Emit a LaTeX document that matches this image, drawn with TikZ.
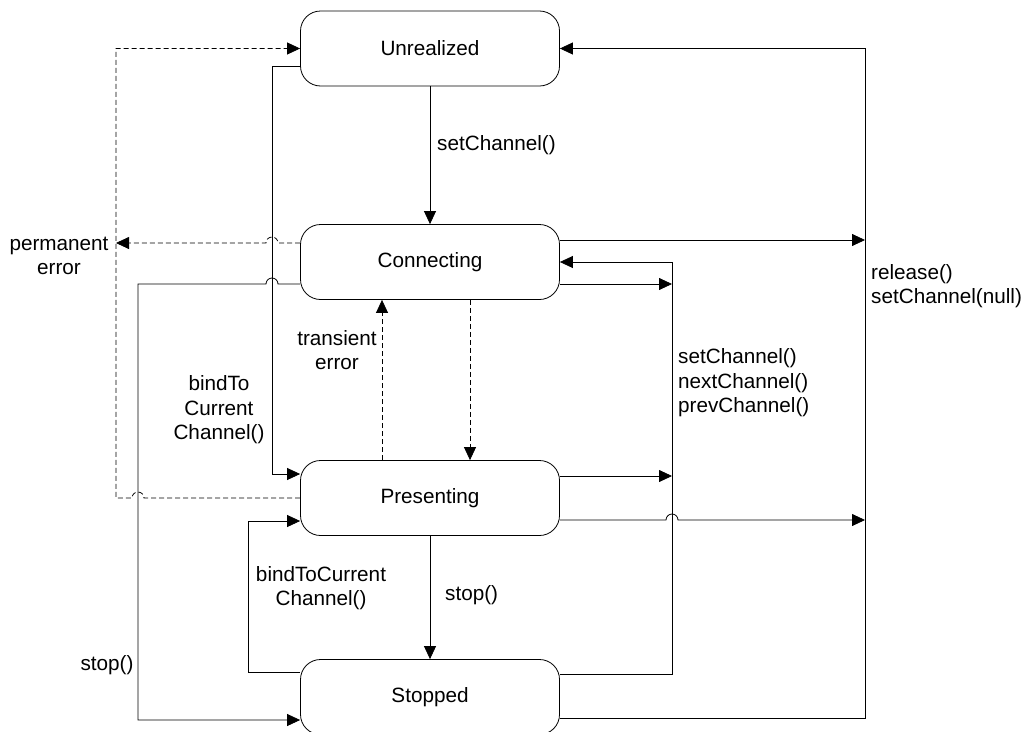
\documentclass[tikz,border=0pt]{standalone}
\usepackage{fontspec}
\setmainfont{Liberation Sans}
\usetikzlibrary{arrows.meta}
\tikzset{
state/.style={draw,rounded corners=20pt,minimum width=259pt,minimum height=75pt,line width=0.8pt,font=\fontsize{20.7}{24.5}\selectfont},
lbl/.style={inner sep=0pt,font=\fontsize{20.7}{24.5}\selectfont},
ln/.style={line width=0.8pt},
arr/.style={line width=0.8pt,-{Triangle[length=13pt,width=12pt]}},
dsh/.style={dash pattern=on 5pt off 3pt},
}

\begin{document}
\begin{tikzpicture}[x=1pt,y=-1pt]
\useasboundingbox (0,0) rectangle (1025,731);
\node[state] (unr) at (430,48.5) {Unrealized};
\node[state] (con) at (430,262) {Connecting};
\node[state] (pre) at (430,498) {Presenting};
\node[state] (sto) at (430,697) {Stopped};
\coordinate (b1) at (272,66);
\coordinate (b2) at (272,474);
\coordinate (c1) at (248,672);
\coordinate (c2) at (248,521);
\coordinate (s1) at (138,284);
\coordinate (s2) at (138,720);
\coordinate (pe) at (116,243);
\coordinate (d1) at (116,498);
\coordinate (d2) at (116,48.5);
\coordinate (q1) at (672,262);
\coordinate (q2) at (672,674);
\coordinate (q3) at (672,284);
\coordinate (q4) at (672,476);
\coordinate (r1) at (865,48.5);
\coordinate (r2) at (865,718);
\coordinate (r3) at (865,240);
\coordinate (r4) at (865,520);
\node[lbl,anchor=west] (l1) at (437,145) {setChannel()};
\node[lbl,anchor=west] (l2) at (445,595) {stop()};
\node[lbl,align=center] (l3) at (59,256) {permanent\\error};
\node[lbl,align=center] (l4) at (337,350) {transient\\error};
\node[lbl,align=center] (l5) at (219,410) {bindTo\\Current\\Channel()};
\node[lbl,align=center] (l6) at (321,588) {bindToCurrent\\Channel()};
\node[lbl] (l7) at (107,665) {stop()};
\node[lbl,align=left,anchor=west] (l8) at (678,383) {setChannel()\\nextChannel()\\prevChannel()};
\node[lbl,align=left,anchor=west] (l9) at (871,286) {release()\\setChannel(null)};
\draw[arr] (unr) -- (con);
\draw[arr] (pre) -- (sto);
\draw[arr,dsh] ([xshift=40pt]con.south) -- ([xshift=40pt]pre.north);
\draw[arr,dsh] ([xshift=-48pt]pre.north) -- ([xshift=-48pt]con.south);
\draw[arr] (unr.west |- b1) -- (b1) -- (b2) -- (pre.west |- b2);
\draw[arr] (sto.west |- c1) -- (c1) -- (c2) -- (pre.west |- c2);
\draw[arr] (con.west |- s1) -- (278,284) arc[start angle=0,end angle=180,radius=6pt] -- (s1) -- (s2) -- (sto.west |- s2);
\draw[arr,dsh] (con.west |- pe) -- (278,243) arc[start angle=0,end angle=180,radius=6pt] -- (pe);
\draw[arr,dsh] (pre.west) -- (144,498) arc[start angle=0,end angle=180,radius=6pt] -- (d1) -- (d2) -- (unr.west);
\draw[arr] (sto.east |- r2) -- (r2) -- (r1) -- (unr.east);
\draw[arr] (con.east |- r3) -- (r3);
\draw[arr] (pre.east |- r4) -- (666,520) arc[start angle=180,end angle=0,radius=6pt] -- (r4);
\draw[arr] (sto.east |- q2) -- (q2) -- (q1) -- (con.east);
\draw[arr] (con.east |- q3) -- (q3);
\draw[arr] (pre.east |- q4) -- (q4);
\end{tikzpicture}
\end{document}
